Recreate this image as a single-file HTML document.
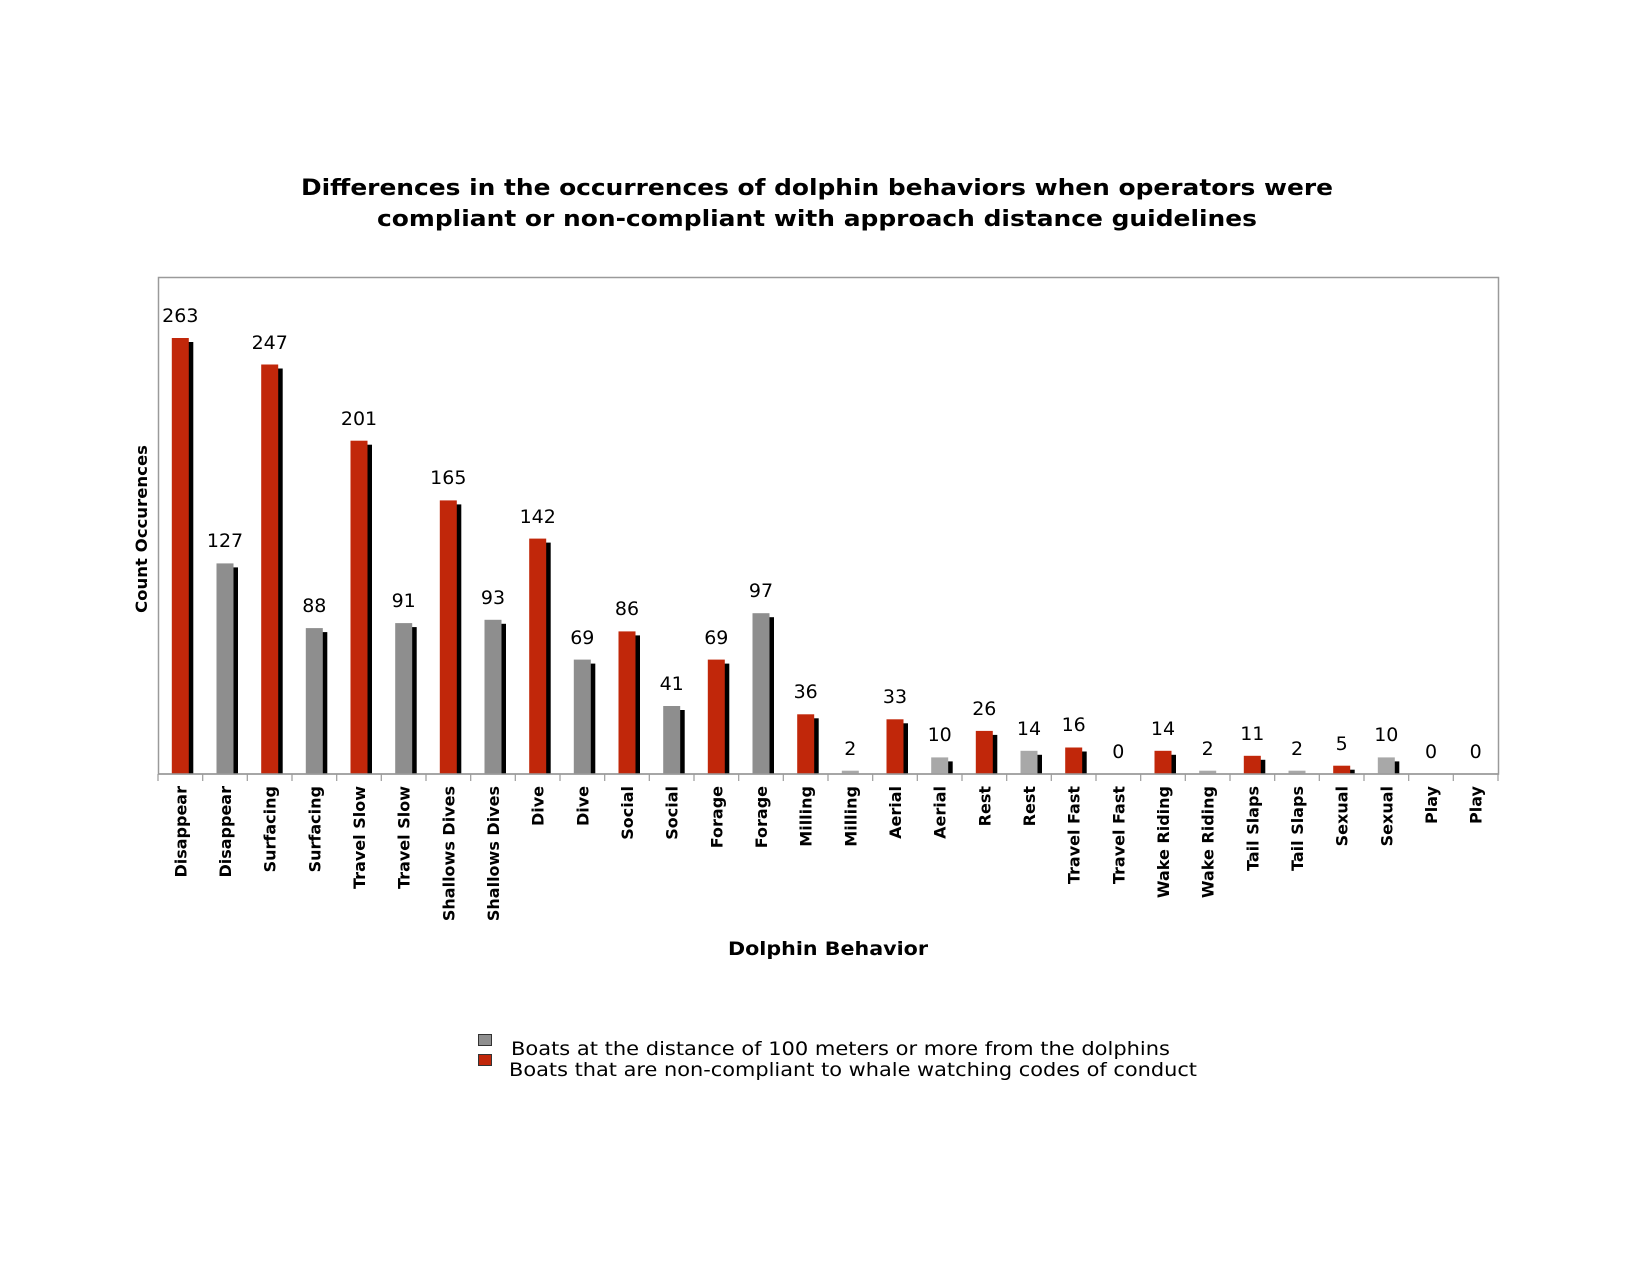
<!DOCTYPE html>
<html><head><meta charset="utf-8"><style>
html,body{margin:0;padding:0;background:#fff}
svg{display:block}
text{font-family:"DejaVu Sans","Liberation Sans",sans-serif}
.v{font-size:19px;text-anchor:middle;fill:#000}
.c{font-size:16px;font-weight:bold;text-anchor:end}
</style></head><body>
<svg width="1650" height="1275" viewBox="0 0 1650 1275" xmlns="http://www.w3.org/2000/svg">
<text x="817" y="195" font-size="22" font-weight="bold" text-anchor="middle" textLength="1032" lengthAdjust="spacingAndGlyphs">Differences in the occurrences of dolphin behaviors when operators were</text>
<text x="817" y="226" font-size="22" font-weight="bold" text-anchor="middle" textLength="880" lengthAdjust="spacingAndGlyphs">compliant or non-compliant with approach distance guidelines</text>
<rect x="158.5" y="277.5" width="1340" height="496.5" fill="none" stroke="#9a9a9a" stroke-width="1.5"/>
<text transform="translate(147,529) rotate(-90)" font-size="16" font-weight="bold" text-anchor="middle" textLength="168" lengthAdjust="spacingAndGlyphs">Count Occurences</text>
<g fill="#000">
<rect x="176.3" y="342" width="17" height="432"/>
<rect x="221" y="567.4" width="17" height="206.6"/>
<rect x="265.7" y="368.5" width="17" height="405.5"/>
<rect x="310.3" y="632.1" width="17" height="141.9"/>
<rect x="355" y="444.7" width="17" height="329.3"/>
<rect x="399.7" y="627.1" width="17" height="146.9"/>
<rect x="444.3" y="504.4" width="17" height="269.6"/>
<rect x="489" y="623.8" width="17" height="150.2"/>
<rect x="533.7" y="542.6" width="17" height="231.4"/>
<rect x="578.3" y="663.6" width="17" height="110.4"/>
<rect x="623" y="635.4" width="17" height="138.6"/>
<rect x="667.7" y="710" width="17" height="64"/>
<rect x="712.3" y="663.6" width="17" height="110.4"/>
<rect x="757" y="617.2" width="17" height="156.8"/>
<rect x="801.7" y="718.3" width="17" height="55.7"/>
<rect x="891" y="723.3" width="17" height="50.7"/>
<rect x="935.7" y="761.4" width="17" height="12.6"/>
<rect x="980.3" y="734.9" width="17" height="39.1"/>
<rect x="1025" y="754.8" width="17" height="19.2"/>
<rect x="1069.7" y="751.5" width="17" height="22.5"/>
<rect x="1159" y="754.8" width="17" height="19.2"/>
<rect x="1248.3" y="759.8" width="17" height="14.2"/>
<rect x="1337.7" y="769.7" width="17" height="4.3"/>
<rect x="1382.3" y="761.4" width="17" height="12.6"/>
</g>
<g fill="#c1270a">
<rect x="171.8" y="338" width="17" height="436"/>
<rect x="261.2" y="364.5" width="17" height="409.5"/>
<rect x="350.5" y="440.7" width="17" height="333.3"/>
<rect x="439.8" y="500.4" width="17" height="273.6"/>
<rect x="529.2" y="538.6" width="17" height="235.4"/>
<rect x="618.5" y="631.4" width="17" height="142.6"/>
<rect x="707.8" y="659.6" width="17" height="114.4"/>
<rect x="797.2" y="714.3" width="17" height="59.7"/>
<rect x="886.5" y="719.3" width="17" height="54.7"/>
<rect x="975.8" y="730.9" width="17" height="43.1"/>
<rect x="1065.2" y="747.5" width="17" height="26.5"/>
<rect x="1154.5" y="750.8" width="17" height="23.2"/>
<rect x="1243.8" y="755.8" width="17" height="18.2"/>
<rect x="1333.2" y="765.7" width="17" height="8.3"/>
</g>
<g fill="#8e8e8e">
<rect x="216.5" y="563.4" width="17" height="210.6"/>
<rect x="305.8" y="628.1" width="17" height="145.9"/>
<rect x="395.2" y="623.1" width="17" height="150.9"/>
<rect x="484.5" y="619.8" width="17" height="154.2"/>
<rect x="573.8" y="659.6" width="17" height="114.4"/>
<rect x="663.2" y="706" width="17" height="68"/>
<rect x="752.5" y="613.2" width="17" height="160.8"/>
</g>
<g fill="#a8a8a8">
<rect x="841.8" y="770.7" width="17" height="3.3"/>
<rect x="931.2" y="757.4" width="17" height="16.6"/>
<rect x="1020.5" y="750.8" width="17" height="23.2"/>
<rect x="1199.2" y="770.7" width="17" height="3.3"/>
<rect x="1288.5" y="770.7" width="17" height="3.3"/>
<rect x="1377.8" y="757.4" width="17" height="16.6"/>
</g>
<line x1="158" y1="774" x2="1499" y2="774" stroke="#9a9a9a" stroke-width="1.5"/>
<g stroke="#9a9a9a" stroke-width="1.2">
<line x1="158" y1="774" x2="158" y2="781"/><line x1="202.7" y1="774" x2="202.7" y2="781"/><line x1="247.3" y1="774" x2="247.3" y2="781"/><line x1="292" y1="774" x2="292" y2="781"/><line x1="336.7" y1="774" x2="336.7" y2="781"/><line x1="381.3" y1="774" x2="381.3" y2="781"/><line x1="426" y1="774" x2="426" y2="781"/><line x1="470.7" y1="774" x2="470.7" y2="781"/><line x1="515.3" y1="774" x2="515.3" y2="781"/><line x1="560" y1="774" x2="560" y2="781"/><line x1="604.7" y1="774" x2="604.7" y2="781"/><line x1="649.3" y1="774" x2="649.3" y2="781"/><line x1="694" y1="774" x2="694" y2="781"/><line x1="738.7" y1="774" x2="738.7" y2="781"/><line x1="783.3" y1="774" x2="783.3" y2="781"/><line x1="828" y1="774" x2="828" y2="781"/><line x1="872.7" y1="774" x2="872.7" y2="781"/><line x1="917.3" y1="774" x2="917.3" y2="781"/><line x1="962" y1="774" x2="962" y2="781"/><line x1="1006.7" y1="774" x2="1006.7" y2="781"/><line x1="1051.3" y1="774" x2="1051.3" y2="781"/><line x1="1096" y1="774" x2="1096" y2="781"/><line x1="1140.7" y1="774" x2="1140.7" y2="781"/><line x1="1185.3" y1="774" x2="1185.3" y2="781"/><line x1="1230" y1="774" x2="1230" y2="781"/><line x1="1274.7" y1="774" x2="1274.7" y2="781"/><line x1="1319.3" y1="774" x2="1319.3" y2="781"/><line x1="1364" y1="774" x2="1364" y2="781"/><line x1="1408.7" y1="774" x2="1408.7" y2="781"/><line x1="1453.3" y1="774" x2="1453.3" y2="781"/><line x1="1498" y1="774" x2="1498" y2="781"/>
</g>
<g class="v">
<text x="180.3" y="322" class="v">263</text>
<text x="225" y="547" class="v">127</text>
<text x="269.7" y="349" class="v">247</text>
<text x="314.3" y="612" class="v">88</text>
<text x="359" y="425" class="v">201</text>
<text x="403.7" y="607" class="v">91</text>
<text x="448.3" y="484" class="v">165</text>
<text x="493" y="604" class="v">93</text>
<text x="537.7" y="523" class="v">142</text>
<text x="582.3" y="644" class="v">69</text>
<text x="627" y="615" class="v">86</text>
<text x="671.7" y="690" class="v">41</text>
<text x="716.3" y="644" class="v">69</text>
<text x="761" y="597" class="v">97</text>
<text x="805.7" y="698" class="v">36</text>
<text x="850.3" y="755" class="v">2</text>
<text x="895" y="703" class="v">33</text>
<text x="939.7" y="741" class="v">10</text>
<text x="984.3" y="715" class="v">26</text>
<text x="1029" y="735" class="v">14</text>
<text x="1073.7" y="731" class="v">16</text>
<text x="1118.3" y="758" class="v">0</text>
<text x="1163" y="735" class="v">14</text>
<text x="1207.7" y="755" class="v">2</text>
<text x="1252.3" y="740" class="v">11</text>
<text x="1297" y="755" class="v">2</text>
<text x="1341.7" y="750" class="v">5</text>
<text x="1386.3" y="741" class="v">10</text>
<text x="1431" y="758" class="v">0</text>
<text x="1475.7" y="758" class="v">0</text>
</g>
<g class="c">
<text class="c" transform="translate(186.3,786) rotate(-90)">Disappear</text>
<text class="c" transform="translate(231,786) rotate(-90)">Disappear</text>
<text class="c" transform="translate(275.7,786) rotate(-90)">Surfacing</text>
<text class="c" transform="translate(320.3,786) rotate(-90)">Surfacing</text>
<text class="c" transform="translate(365,786) rotate(-90)">Travel Slow</text>
<text class="c" transform="translate(409.7,786) rotate(-90)">Travel Slow</text>
<text class="c" transform="translate(454.3,786) rotate(-90)">Shallows Dives</text>
<text class="c" transform="translate(499,786) rotate(-90)">Shallows Dives</text>
<text class="c" transform="translate(543.7,786) rotate(-90)">Dive</text>
<text class="c" transform="translate(588.3,786) rotate(-90)">Dive</text>
<text class="c" transform="translate(633,786) rotate(-90)">Social</text>
<text class="c" transform="translate(677.7,786) rotate(-90)">Social</text>
<text class="c" transform="translate(722.3,786) rotate(-90)">Forage</text>
<text class="c" transform="translate(767,786) rotate(-90)">Forage</text>
<text class="c" transform="translate(811.7,786) rotate(-90)">Milling</text>
<text class="c" transform="translate(856.3,786) rotate(-90)">Milling</text>
<text class="c" transform="translate(901,786) rotate(-90)">Aerial</text>
<text class="c" transform="translate(945.7,786) rotate(-90)">Aerial</text>
<text class="c" transform="translate(990.3,786) rotate(-90)">Rest</text>
<text class="c" transform="translate(1035,786) rotate(-90)">Rest</text>
<text class="c" transform="translate(1079.7,786) rotate(-90)">Travel Fast</text>
<text class="c" transform="translate(1124.3,786) rotate(-90)">Travel Fast</text>
<text class="c" transform="translate(1169,786) rotate(-90)">Wake Riding</text>
<text class="c" transform="translate(1213.7,786) rotate(-90)">Wake Riding</text>
<text class="c" transform="translate(1258.3,786) rotate(-90)">Tail Slaps</text>
<text class="c" transform="translate(1303,786) rotate(-90)">Tail Slaps</text>
<text class="c" transform="translate(1347.7,786) rotate(-90)">Sexual</text>
<text class="c" transform="translate(1392.3,786) rotate(-90)">Sexual</text>
<text class="c" transform="translate(1437,786) rotate(-90)">Play</text>
<text class="c" transform="translate(1481.7,786) rotate(-90)">Play</text>
</g>
<text x="828" y="955" font-size="19" font-weight="bold" text-anchor="middle" textLength="200" lengthAdjust="spacingAndGlyphs">Dolphin Behavior</text>
<rect x="478.5" y="1034.5" width="13" height="11" fill="#8e8e8e" stroke="#333" stroke-width="1"/>
<rect x="478.5" y="1054.5" width="13" height="11" fill="#c1270a" stroke="#333" stroke-width="1"/>
<text x="511" y="1055" font-size="19" textLength="659" lengthAdjust="spacingAndGlyphs">Boats at the distance of 100 meters or more from the dolphins</text>
<text x="509" y="1076" font-size="19" textLength="688" lengthAdjust="spacingAndGlyphs">Boats that are non-compliant to whale watching codes of conduct</text>
</svg>
</body></html>
